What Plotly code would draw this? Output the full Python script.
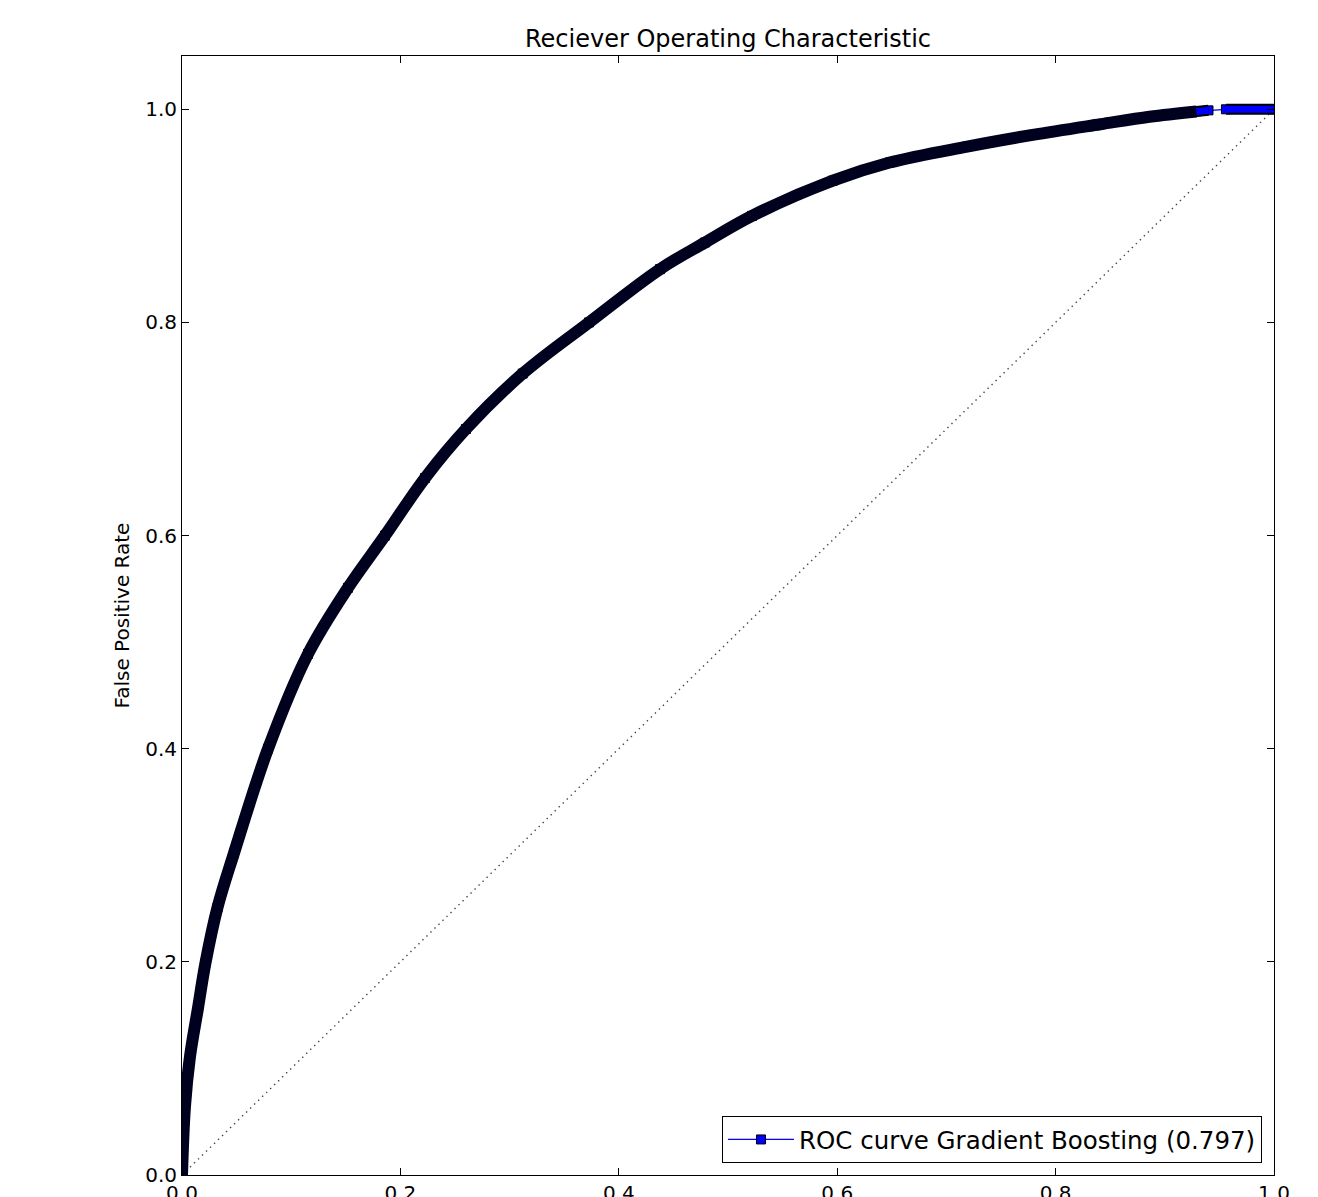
import plotly.graph_objects as go

# ROC curve points
fpr = [0.0, 0.0027, 0.0073, 0.0147, 0.0215, 0.0325, 0.0476, 0.0788, 0.1154, 0.152,
       0.1859, 0.2225, 0.260, 0.312, 0.3727, 0.4377, 0.479, 0.522, 0.596, 0.648,
       0.719, 0.779, 0.841, 0.886, 0.929, 0.940, 0.956, 1.0]
tpr = [0.0, 0.064, 0.111, 0.157, 0.199, 0.251, 0.302, 0.400, 0.489, 0.551,
       0.600, 0.654, 0.700, 0.752, 0.800, 0.850, 0.875, 0.900, 0.933, 0.950,
       0.965, 0.976, 0.986, 0.993, 0.998, 0.999, 1.0, 1.0]

diag_x = [0.0, 1.0]
diag_y = [0.0, 1.0]

curve_name = "ROC curve Gradient Boosting (0.797)"
title_text = "Reciever Operating Characteristic"
ylabel = "False Positive Rate"
tick_vals = [0.0, 0.2, 0.4, 0.6, 0.8, 1.0]

FONT = "DejaVu Sans"

fig = go.Figure()

# diagonal reference line
fig.add_trace(go.Scatter(x=diag_x, y=diag_y, mode="lines",
                         line=dict(color="#444444", width=1.4, dash="1.4px,4.2px"),
                         showlegend=False, hoverinfo="skip"))

# legend-bearing curve (blue line with square markers)
fig.add_trace(go.Scatter(x=fpr, y=tpr, mode="lines+markers", name=curve_name,
                         line=dict(color="#0000ff", width=1.2),
                         marker=dict(symbol="square", size=9, color="#0000ff",
                                     line=dict(color="black", width=1))))

# dense-marker band look (dark overlapping markers)
n_dark = 25
fig.add_trace(go.Scatter(x=fpr[:n_dark], y=tpr[:n_dark], mode="lines",
                         line=dict(color="#00001f", width=12, shape="spline", smoothing=1.0),
                         showlegend=False, hoverinfo="skip"))

# sparser marker segments near the top right (blue squares with black edges)
for seg in (slice(24, 26), slice(26, 28)):
    fig.add_trace(go.Scatter(x=fpr[seg], y=tpr[seg], mode="lines",
                             line=dict(color="black", width=11),
                             showlegend=False, hoverinfo="skip"))
    fig.add_trace(go.Scatter(x=fpr[seg], y=tpr[seg], mode="lines",
                             line=dict(color="#0000ff", width=7),
                             showlegend=False, hoverinfo="skip"))

axis_common = dict(showgrid=False, zeroline=False, showline=True, linecolor="black",
                   linewidth=1, mirror="ticks", ticks="inside", ticklen=7,
                   tickcolor="black", tickwidth=1, tickvals=tick_vals,
                   tickformat=".1f", automargin=False,
                   tickfont=dict(family=FONT, size=20, color="black"))

fig.update_xaxes(range=[0, 1], **axis_common)
fig.update_yaxes(range=[0, 1.05], title=dict(text=ylabel, standoff=10,
                 font=dict(family=FONT, size=20, color="black")), **axis_common)

fig.update_layout(
    width=1318, height=1197,
    margin=dict(l=182, r=44, t=56, b=22, autoexpand=False),
    paper_bgcolor="white", plot_bgcolor="white",
    font=dict(family=FONT, color="black"),
    title=dict(text=title_text, x=0.5, xref="paper", xanchor="center",
               y=1 - 39 / 1197, yref="container", yanchor="middle",
               font=dict(family=FONT, size=24, color="black")),
    legend=dict(x=0.989, y=0.0107, xanchor="right", yanchor="bottom",
                bgcolor="white", bordercolor="black", borderwidth=1,
                font=dict(family=FONT, size=24.5, color="black"),
                itemwidth=66),
    showlegend=True,
)

fig.write_html("out.html", config={"displayModeBar": False},
               post_script="document.body.style.margin='0px';")
